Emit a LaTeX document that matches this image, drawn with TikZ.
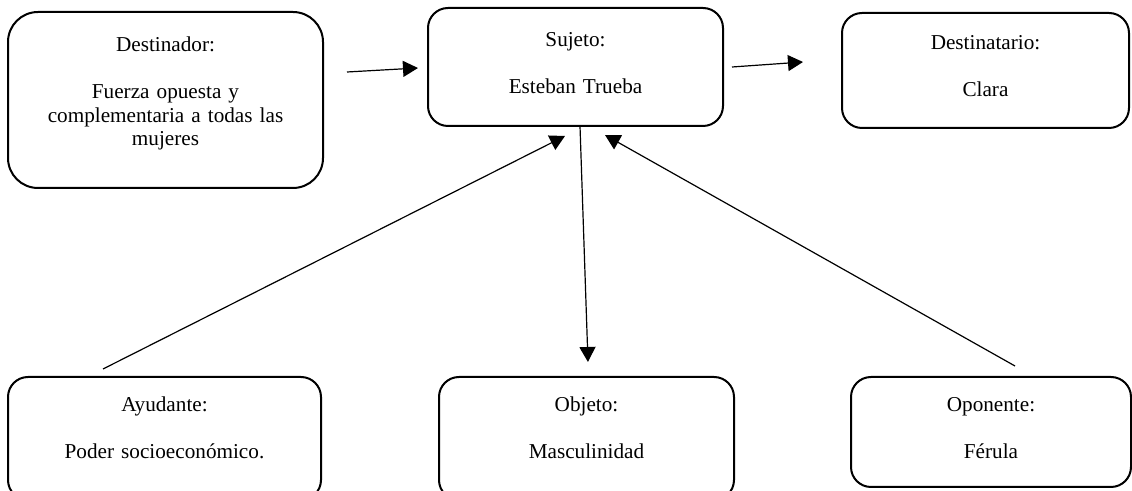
\documentclass[tikz,border=0pt]{standalone}
\usepackage{fontspec}
\setmainfont{Liberation Serif}
\usepackage{tikz}
\usetikzlibrary{arrows.meta,calc}
\tikzset{
    actornode/.style = {
        align=center,
        rectangle,
        rounded corners=10pt,
        draw=black,
        line width=1pt,
        inner sep=0pt,
        outer sep=0pt,
        font=\fontsize{10.6}{11.75}\selectfont
    },
    actorlink/.style = {
        line width=0.6pt,
        -{Triangle[length=7.5pt,width=8pt]}
    }
}

\begin{document}
\begin{tikzpicture}[x=0.5pt, y=-0.5pt]
    \useasboundingbox (0,0) rectangle (1132,491);
    % upper row
    \node [actornode, rounded corners=15pt, text width=157.5pt, text height=20pt, text depth=68pt]
        (destinador) at (165.5,100) {Destinador:\\[11.75pt]Fuerza opuesta y\\complementaria a todas las\\mujeres};
    \node [actornode, text width=147.5pt, text height=19.5pt, text depth=39.5pt]
        (sujeto) at (575.5,67) {Sujeto:\\[11.75pt]Esteban Trueba};
    \node [actornode, text width=143.5pt, text height=18.5pt, text depth=39pt]
        (destinatario) at (985.5,70.5) {Destinatario:\\[11.75pt]Clara};
    % lower row
    \node [actornode, text width=156.5pt, text height=17.5pt, text depth=44pt]
        (ayudante) at (164.5,438.5) {Ayudante:\\[11.75pt]Poder socioeconómico.};
    \node [actornode, text width=147.5pt, text height=17.5pt, text depth=44pt]
        (objeto) at (586.5,438.5) {Objeto:\\[11.75pt]Masculinidad};
    \node [actornode, text width=140pt, text height=17.5pt, text depth=37.5pt]
        (oponente) at (991,432) {Oponente:\\[11.75pt]Férula};

    \draw [actorlink] ($(destinador.east)+(24,-28)$) -- ($(sujeto.west)+(-10,1)$);
    \draw [actorlink] ($(sujeto.east)+(9,0)$) -- ($(destinatario.west)+(-39,-8.5)$);
    \draw [actorlink] ($(sujeto.south)+(4.5,0)$) -- ($(objeto.north)+(1.5,-15)$);
    \draw [actorlink] ($(ayudante.north)+(-61.5,-8)$) -- ($(sujeto.south)+(-10.5,10)$);
    \draw [actorlink] ($(oponente.north)+(24,-11)$) -- ($(sujeto.south)+(29.5,9)$);
\end{tikzpicture}
\end{document}
